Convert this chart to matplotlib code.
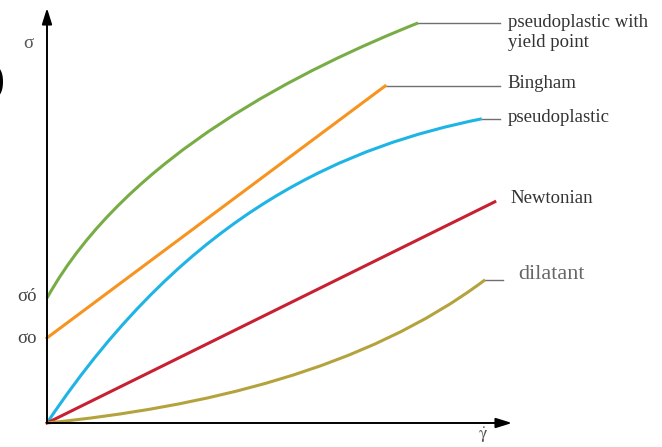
import matplotlib
matplotlib.use("Agg")
import matplotlib.pyplot as plt
from matplotlib.path import Path
from matplotlib.patches import PathPatch

plt.rcParams['font.family'] = ['Liberation Serif', 'DejaVu Serif']
plt.rcParams['mathtext.fontset'] = 'stix'

# flow curves: shear stress vs shear rate (arbitrary units, 0..100)
# curved ones are cubic bezier control points (x list, y list)
green_x = [0, 17.2, 56.1, 79.8]
green_y = [30.1, 64.8, 85.8, 96.4]
orange_x = [0, 72.7]
orange_y = [20.5, 81.2]
blue_x = [0, 31.0, 65.6, 93.5]
blue_y = [0, 52.0, 67.0, 73.3]
red_x = [0, 96.3]
red_y = [0, 53.3]
olive_x = [0, 33.5, 68.4, 94.2]
olive_y = [0, 3.8, 12.8, 34.5]

labels = ["pseudoplastic with", "yield point", "Bingham", "pseudoplastic", "Newtonian", "dilatant"]

c_green = "#78ad45"
c_orange = "#f7941f"
c_blue = "#1eb4e6"
c_red = "#c82033"
c_olive = "#b4a33c"
c_lead = "#707070"

fig = plt.figure(figsize=(6.62, 4.47), dpi=100)
ax = fig.add_axes([47 / 662, 24 / 447, 465 / 662, 415 / 447])
ax.set_xlim(0, 100)
ax.set_ylim(0, 100)
ax.axis('off')


def bezier(xs, ys, color):
    verts = list(zip(xs, ys))
    codes = [Path.MOVETO, Path.CURVE4, Path.CURVE4, Path.CURVE4]
    p = PathPatch(Path(verts, codes), fill=False, edgecolor=color, lw=2.2,
                  capstyle='butt', clip_on=False, zorder=3)
    ax.add_patch(p)


bezier(green_x, green_y, c_green)
ax.plot(orange_x, orange_y, color=c_orange, lw=2.2, clip_on=False, zorder=3)
bezier(blue_x, blue_y, c_blue)
ax.plot(red_x, red_y, color=c_red, lw=2.2, clip_on=False, zorder=3)
bezier(olive_x, olive_y, c_olive)

# axes with arrow heads
arr = dict(arrowstyle='-|>,head_length=0.8,head_width=0.25', lw=1.4,
           color='black', mutation_scale=12, shrinkA=0, shrinkB=0)
ax.annotate('', xy=(0, 100), xytext=(0, 0), arrowprops=arr, annotation_clip=False)
ax.annotate('', xy=(100, 0), xytext=(0, 0), arrowprops=arr, annotation_clip=False)

# leader lines to the labels
ax.plot([green_x[-1], 97.4], [green_y[-1]] * 2, color=c_lead, lw=1, clip_on=False)
ax.plot([orange_x[-1], 97.4], [orange_y[-1]] * 2, color=c_lead, lw=1, clip_on=False)
ax.plot([blue_x[-1], 97.4], [blue_y[-1]] * 2, color=c_lead, lw=1, clip_on=False)
ax.plot([olive_x[-1], 98.1], [olive_y[-1]] * 2, color=c_lead, lw=1, clip_on=False)

tc = "#333333"
fs = 13.5
ax.text(99.1, 96.6, labels[0], fontsize=fs, color=tc, ha='left', va='center')
ax.text(99.1, 91.8, labels[1], fontsize=fs, color=tc, ha='left', va='center')
ax.text(99.1, 81.9, labels[2], fontsize=fs, color=tc, ha='left', va='center')
ax.text(99.1, 73.7, labels[3], fontsize=fs, color=tc, ha='left', va='center')
ax.text(99.6, 54.2, labels[4], fontsize=fs, color=tc, ha='left', va='center')
ax.text(101.3, 35.9, labels[5], fontsize=16, color="#666666", ha='left', va='center')

# axis symbols
ax.text(-4.1, 91.4, "σ", fontsize=13.5, color="#555555", ha='center', va='center')
ax.text(-2.2, 30.4, "σó", fontsize=13.5, color="#444444", ha='right', va='center')
ax.text(-2.2, 20.3, "σo", fontsize=13.5, color="#444444", ha='right', va='center')
ax.text(93.8, -2.9, r"$\dot{\mathrm{\gamma}}$", fontsize=13, color="#555555",
        ha='center', va='center')

# edge of the panel letter
fig.text(-0.014, 0.817, ")", fontsize=30, color='black', ha='left', va='center')

fig.savefig("out.png", dpi=100)
